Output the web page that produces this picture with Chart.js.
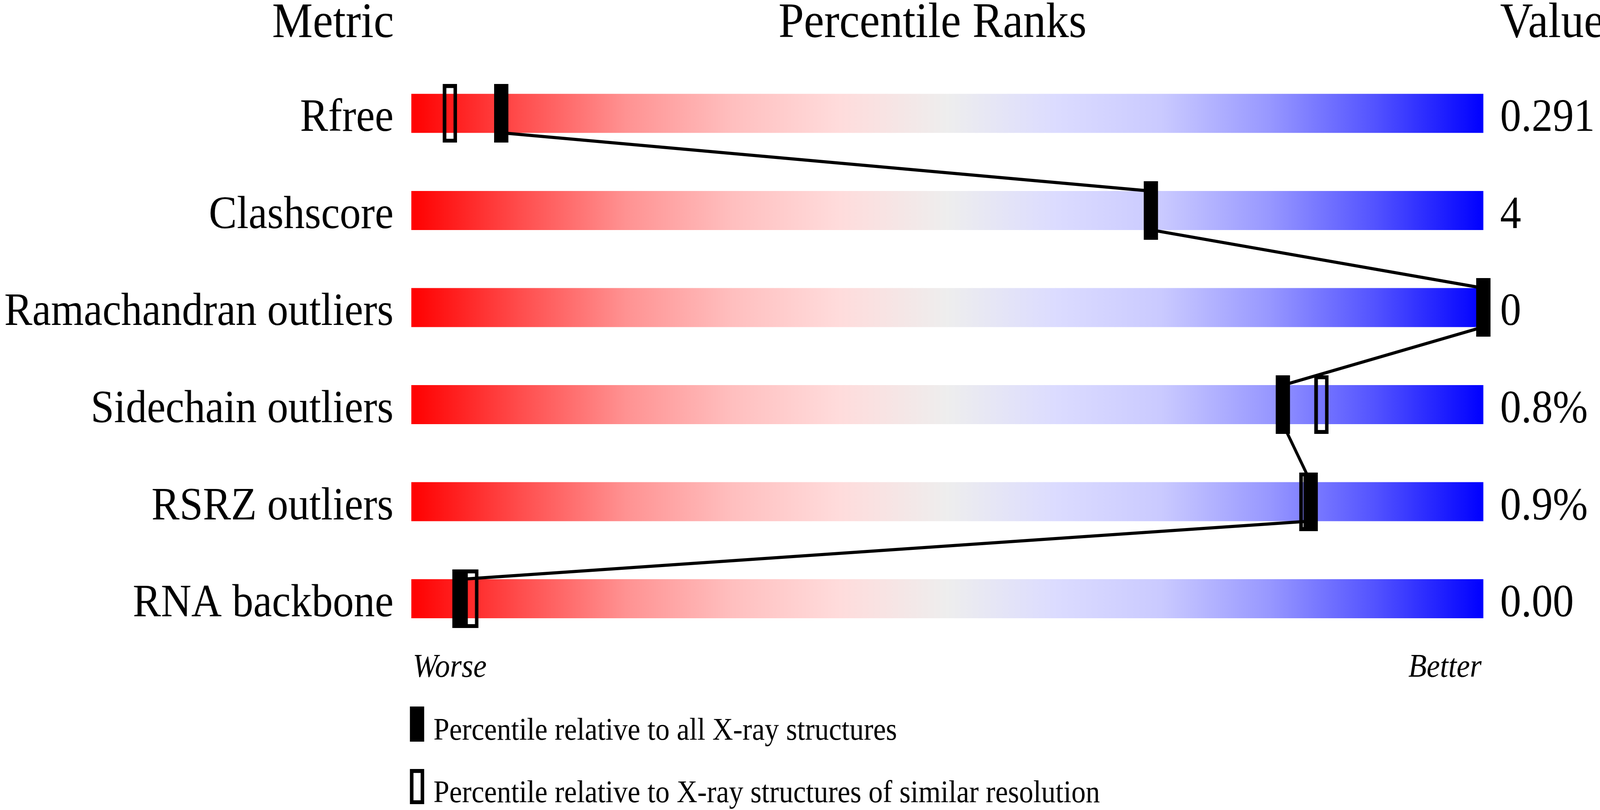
<!DOCTYPE html>
<html>
<head>
<meta charset="utf-8">
<script src="https://cdn.jsdelivr.net/npm/chart.js@4.4.1/dist/chart.umd.min.js"></script>
<style>
  html, body { margin: 0; padding: 0; background: #fff; overflow: hidden; }
  canvas { display: block; }
</style>
</head>
<body>
<canvas id="slider" width="4485" height="2074" style="width:100vw;height:100vh"></canvas>
<script>
const metrics = ['Rfree', 'Clashscore', 'Ramachandran outliers', 'Sidechain outliers', 'RSRZ outliers', 'RNA backbone'];
const metricValues = ['0.291', '4', '0', '0.8%', '0.9%', '0.00'];
// percentile relative to all X-ray structures
const pctAll = [8.4, 69.0, 100, 81.3, 83.9, 4.5];
// percentile relative to structures of similar resolution (null = not shown)
const pctSimilar = [3.6, null, null, 84.9, 83.5, 5.6];

const legendLabels = ['Percentile relative to all X-ray structures', 'Percentile relative to X-ray structures of similar resolution'];

const serif = '"Liberation Serif", "Times New Roman", serif';
const gradStops = [
    [0, '#ff0000'], [0.1, '#ff4c4c'], [0.2, '#ff9292'], [0.3, '#ffbfbf'],
    [0.4, '#ffdcdc'], [0.5, '#eeeeee'], [0.6, '#dcdcff'], [0.7, '#cacaff'],
    [0.8, '#9898ff'], [0.9, '#5252ff'], [1, '#0000ff']
];

const BAR_HALF = 0.2; // half bar height, in row units

function markerCanvas(w, h, hollow) {
    const c = document.createElement('canvas');
    c.width = w; c.height = h;
    const g = c.getContext('2d');
    g.fillStyle = '#000';
    g.strokeStyle = '#000';
    if (hollow) {
        g.lineWidth = 10;
        g.strokeRect(5, 5, w - 10, h - 10);
    } else {
        g.fillRect(0, 0, w, h);
    }
    return c;
}

const solidMark = markerCanvas(40, 150, false);
const hollowMark = markerCanvas(40, 150, true);
const solidLegend = markerCanvas(40, 90, false);
const hollowLegend = markerCanvas(40, 90, true);

function barGradient(ctx) {
    const chart = ctx.chart;
    if (!chart.chartArea) return '#eeeeee';
    const x0 = chart.scales.x.getPixelForValue(0);
    const x1 = chart.scales.x.getPixelForValue(100);
    const g = chart.ctx.createLinearGradient(x0, 0, x1, 0);
    gradStops.forEach(s => g.addColorStop(s[0], s[1]));
    return g;
}

// connector: from bottom edge of one bar to top edge of the next, at the solid marker
const connector = [];
pctAll.forEach((p, i) => {
    if (i > 0) connector.push({ x: p, y: i - BAR_HALF });
    if (i < pctAll.length - 1) connector.push({ x: p, y: i + BAR_HALF });
});

const datasets = [];
datasets.push({
    type: 'scatter',
    label: 'all',
    data: pctAll.map((p, i) => ({ x: p, y: i })),
    pointStyle: solidMark,
    pointRadius: 5,
    clip: false,
    order: 0
});
datasets.push({
    type: 'scatter',
    label: 'similar',
    data: pctSimilar.map((p, i) => p === null ? null : ({ x: p, y: i })).filter(d => d),
    pointStyle: hollowMark,
    pointRadius: 5,
    clip: false,
    order: 1
});
datasets.push({
    type: 'line',
    label: 'link',
    data: connector,
    borderColor: '#000',
    borderWidth: 8,
    pointRadius: 0,
    fill: false,
    clip: false,
    order: 2
});
metrics.forEach((m, i) => {
    datasets.push({
        type: 'line',
        label: m,
        data: [{ x: 0, y: i }, { x: 100, y: i }],
        borderColor: barGradient,
        borderWidth: 100,
        borderCapStyle: 'butt',
        pointRadius: 0,
        fill: false,
        clip: false,
        order: 3
    });
});

const textPlugin = {
    id: 'sliderText',
    afterDraw(chart) {
        const { ctx, chartArea } = chart;
        const yS = chart.scales.y;
        ctx.save();
        ctx.fillStyle = '#000';
        ctx.textBaseline = 'alphabetic';

        ctx.font = '128px ' + serif;
        ctx.textAlign = 'right';
        ctx.fillText('Metric', chartArea.left - 49, 95);
        ctx.textAlign = 'center';
        ctx.fillText('Percentile Ranks', chartArea.left + 1461, 95);
        ctx.textAlign = 'left';
        ctx.fillText('Value', chartArea.right + 47, 95);

        const lastRow = yS.getPixelForValue(metrics.length - 1);
        ctx.font = 'italic 84px ' + serif;
        ctx.textAlign = 'left';
        ctx.fillText('Worse', chartArea.left + 4, lastRow + 200);
        ctx.textAlign = 'right';
        ctx.fillText('Better', chartArea.right - 5, lastRow + 200);

        ctx.font = '80px ' + serif;
        ctx.textAlign = 'left';
        const marks = [solidLegend, hollowLegend];
        const tops = [lastRow + 276, lastRow + 436];
        legendLabels.forEach((t, k) => {
            ctx.drawImage(marks[k], chartArea.left - 4, tops[k]);
            ctx.fillText(t, chartArea.left + 62, tops[k] + 85);
        });
        ctx.restore();
    }
};

function noPad(s) {
    s.paddingTop = 0;
    s.paddingBottom = 0;
}

function build() {
    new Chart(document.getElementById('slider').getContext('2d'), {
        data: { datasets },
        options: {
            responsive: false,
            animation: false,
            devicePixelRatio: 1,
            layout: { padding: 0 },
            plugins: { legend: { display: false }, tooltip: { enabled: false }, title: { display: false } },
            scales: {
                x: { type: 'linear', min: 0, max: 100, display: false },
                y: {
                    type: 'linear', position: 'left', reverse: true, min: -1.144, max: 7.152,
                    grid: { display: false, drawTicks: false },
                    border: { display: false },
                    afterBuildTicks: s => { s.ticks = metrics.map((_, i) => ({ value: i })); },
                    afterFit: s => { s.width = 1153; noPad(s); },
                    ticks: {
                        color: '#000', padding: 50, labelOffset: 14,
                        font: { family: serif, size: 118 },
                        callback: v => metrics[v]
                    }
                },
                y2: {
                    type: 'linear', position: 'right', reverse: true, min: -1.144, max: 7.152,
                    grid: { display: false, drawTicks: false },
                    border: { display: false },
                    afterBuildTicks: s => { s.ticks = metricValues.map((_, i) => ({ value: i })); },
                    afterFit: s => { s.width = 327; noPad(s); },
                    ticks: {
                        color: '#000', padding: 47, labelOffset: 14,
                        font: { family: serif, size: 118 },
                        callback: v => metricValues[v]
                    }
                }
            }
        },
        plugins: [textPlugin]
    });
}

Promise.all([
    document.fonts.load('118px "Liberation Serif"'),
    document.fonts.load('italic 80px "Liberation Serif"')
]).then(build, build);
</script>
</body>
</html>
